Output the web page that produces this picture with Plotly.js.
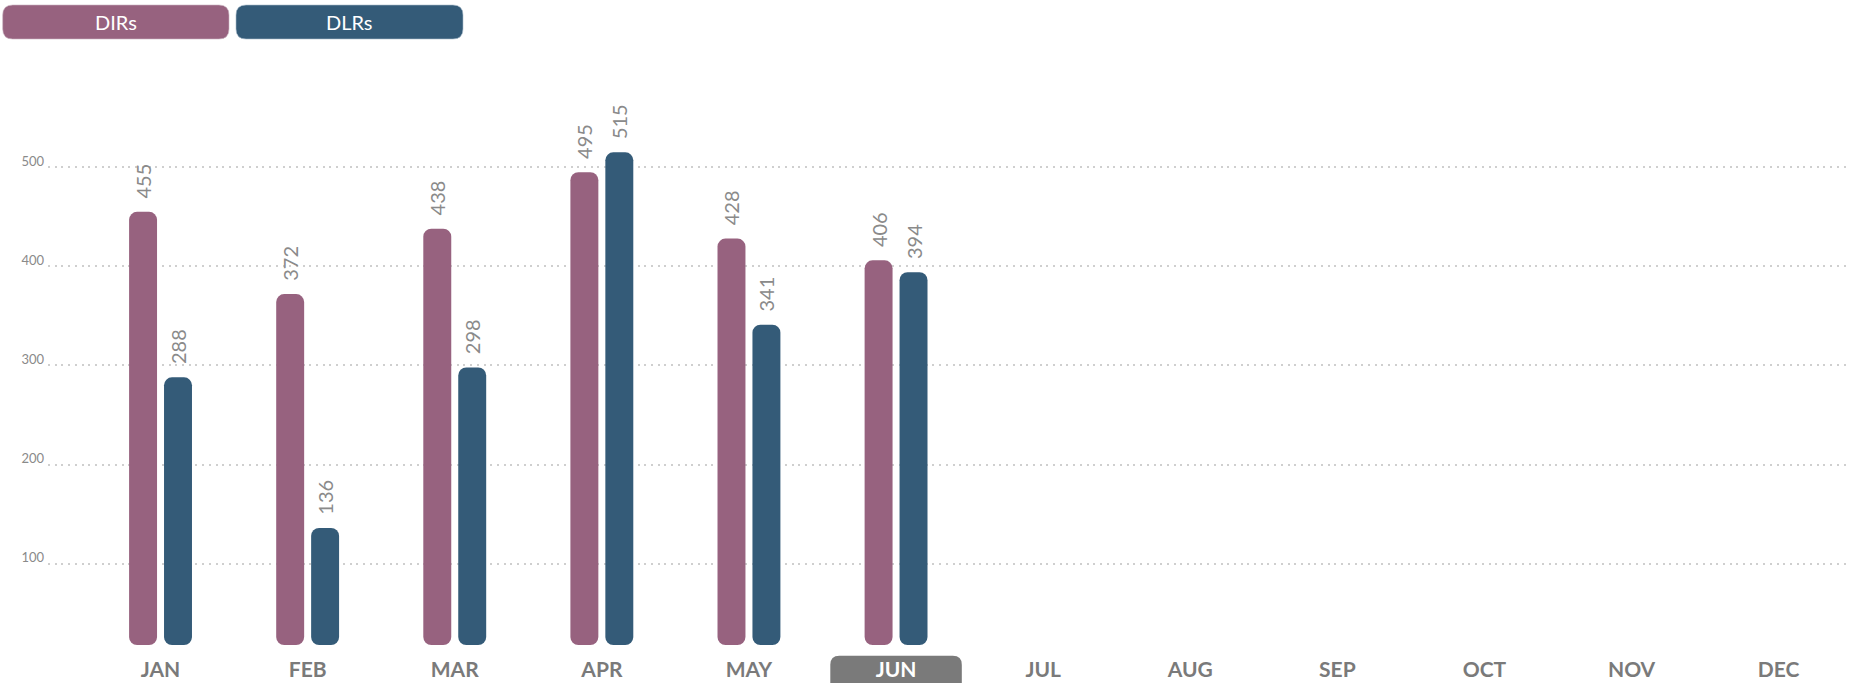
<!DOCTYPE html>
<html>
<head>
<meta charset="utf-8">
<script src="https://cdn.plot.ly/plotly-3.0.1.min.js"></script>
<style>
  html, body { margin: 0; padding: 0; background: #ffffff; }
  #chart { width: 1849px; height: 683px; }
</style>
</head>
<body>
<div id="chart"></div>
<script>
// ---- data ----
const months = ['JAN','FEB','MAR','APR','MAY','JUN','JUL','AUG','SEP','OCT','NOV','DEC'];
const dataMonths = ['JAN','FEB','MAR','APR','MAY','JUN'];
const dirsValues = [455, 372, 438, 495, 428, 406];
const dlrsValues = [288, 136, 298, 515, 341, 394];
const seriesNames = ['DIRs', 'DLRs'];
const yTicks = [100, 200, 300, 400, 500];
const currentMonth = 'JUN';

// ---- style ----
const FONT = 'Lato, "Open Sans", "DejaVu Sans", sans-serif';
const COLORS = ['#97627f', '#345b78'];
const W = 1849, H = 683;
const M = { l: 48, r: 0, t: 100, b: 38 };
const plotW = W - M.l - M.r, plotH = H - M.t - M.b;
const xRange = [-0.765, 11.478];
const yRange = [17.9, 567.8];

// bars visually start at the bottom of the axis range (rounded at both ends)
const barFloor = yRange[0];

// pixel -> paper helpers (for decorations only)
const px = x => (x - M.l) / plotW;
const py = y => (H - M.b - y) / plotH;

function roundRect(x0, y0, x1, y1, r) {
  const rx = r / plotW, ry = r / plotH;
  const L = px(x0), R = px(x1), T = py(y0), B = py(y1);
  return `M ${L + rx},${T} L ${R - rx},${T} Q ${R},${T} ${R},${T - ry} ` +
         `L ${R},${B + ry} Q ${R},${B} ${R - rx},${B} L ${L + rx},${B} ` +
         `Q ${L},${B} ${L},${B + ry} L ${L},${T - ry} Q ${L},${T} ${L + rx},${T} Z`;
}

const textPad = '\u00A0\u00A0';
function barTrace(name, values, color) {
  return {
    type: 'bar',
    name: name,
    x: dataMonths,
    base: values.map(() => barFloor),
    y: values.map(v => v - barFloor),
    customdata: values,
    marker: { color: color, cornerradius: 8, line: { width: 0 } },
    text: values.map(v => textPad + v),
    textposition: 'outside',
    textangle: -90,
    constraintext: 'none',
    cliponaxis: false,
    textfont: { family: FONT, size: 20, color: '#8a8a8a' },
    hovertemplate: '%{x}: %{customdata}<extra>' + name + '</extra>'
  };
}

const traces = [
  barTrace(seriesNames[0], dirsValues, COLORS[0]),
  barTrace(seriesNames[1], dlrsValues, COLORS[1])
];

const curIdx = months.indexOf(currentMonth);
const unitPx = plotW / (xRange[1] - xRange[0]);
const curCx = M.l + (curIdx - xRange[0]) * unitPx;
const hlHalf = 0.447 * unitPx;

const shapes = [
  { type: 'path', xref: 'paper', yref: 'paper', layer: 'below',
    path: roundRect(curCx - hlHalf, 655.7, curCx + hlHalf, 692, 9),
    fillcolor: '#7a7a7a', line: { width: 0 } },
  { type: 'path', xref: 'paper', yref: 'paper', layer: 'above',
    path: roundRect(2.7, 5, 229, 39, 10),
    fillcolor: COLORS[0], line: { color: '#c9b3bf', width: 0.6 } },
  { type: 'path', xref: 'paper', yref: 'paper', layer: 'above',
    path: roundRect(236, 5, 463, 39, 10),
    fillcolor: COLORS[1], line: { color: '#a9bccb', width: 0.6 } }
];

const annotations = [
  { xref: 'paper', yref: 'paper', x: px(115.5), y: py(22), text: seriesNames[0],
    showarrow: false, xanchor: 'center', yanchor: 'middle',
    font: { family: FONT, size: 20, color: '#ffffff' } },
  { xref: 'paper', yref: 'paper', x: px(349.5), y: py(22), text: seriesNames[1],
    showarrow: false, xanchor: 'center', yanchor: 'middle',
    font: { family: FONT, size: 20, color: '#ffffff' } }
];

const layout = {
  width: W, height: H,
  margin: { l: M.l, r: M.r, t: M.t, b: M.b, pad: 0 },
  paper_bgcolor: '#ffffff',
  plot_bgcolor: '#ffffff',
  showlegend: false,
  barmode: 'group',
  bargap: 0.525,
  bargroupgap: 0.2,
  font: { family: FONT },
  xaxis: {
    type: 'category',
    categoryorder: 'array',
    categoryarray: months,
    tickmode: 'array',
    tickvals: months,
    ticktext: months.map(m => m === currentMonth ? '<span style="color:#ffffff">' + m + '</span>' : m),
    range: xRange,
    showgrid: false, zeroline: false, showline: false, ticks: '',
    ticklabelstandoff: 10,
    tickfont: { family: FONT, size: 21, weight: 'bold', color: '#7a7a7a' },
    fixedrange: true
  },
  yaxis: {
    range: yRange,
    tickmode: 'array',
    tickvals: yTicks,
    ticktext: yTicks.map(String),
    showgrid: true,
    gridcolor: '#cfcfcf',
    gridwidth: 1.5,
    griddash: '2px,4.7px',
    zeroline: false, showline: false, ticks: '',
    ticklabelshift: -6,
    ticklabelstandoff: 3,
    tickfont: { family: FONT, size: 13, color: '#8a8a8a' },
    fixedrange: true
  },
  shapes: shapes,
  annotations: annotations
};

Plotly.newPlot('chart', traces, layout, { displayModeBar: false });
</script>
</body>
</html>
